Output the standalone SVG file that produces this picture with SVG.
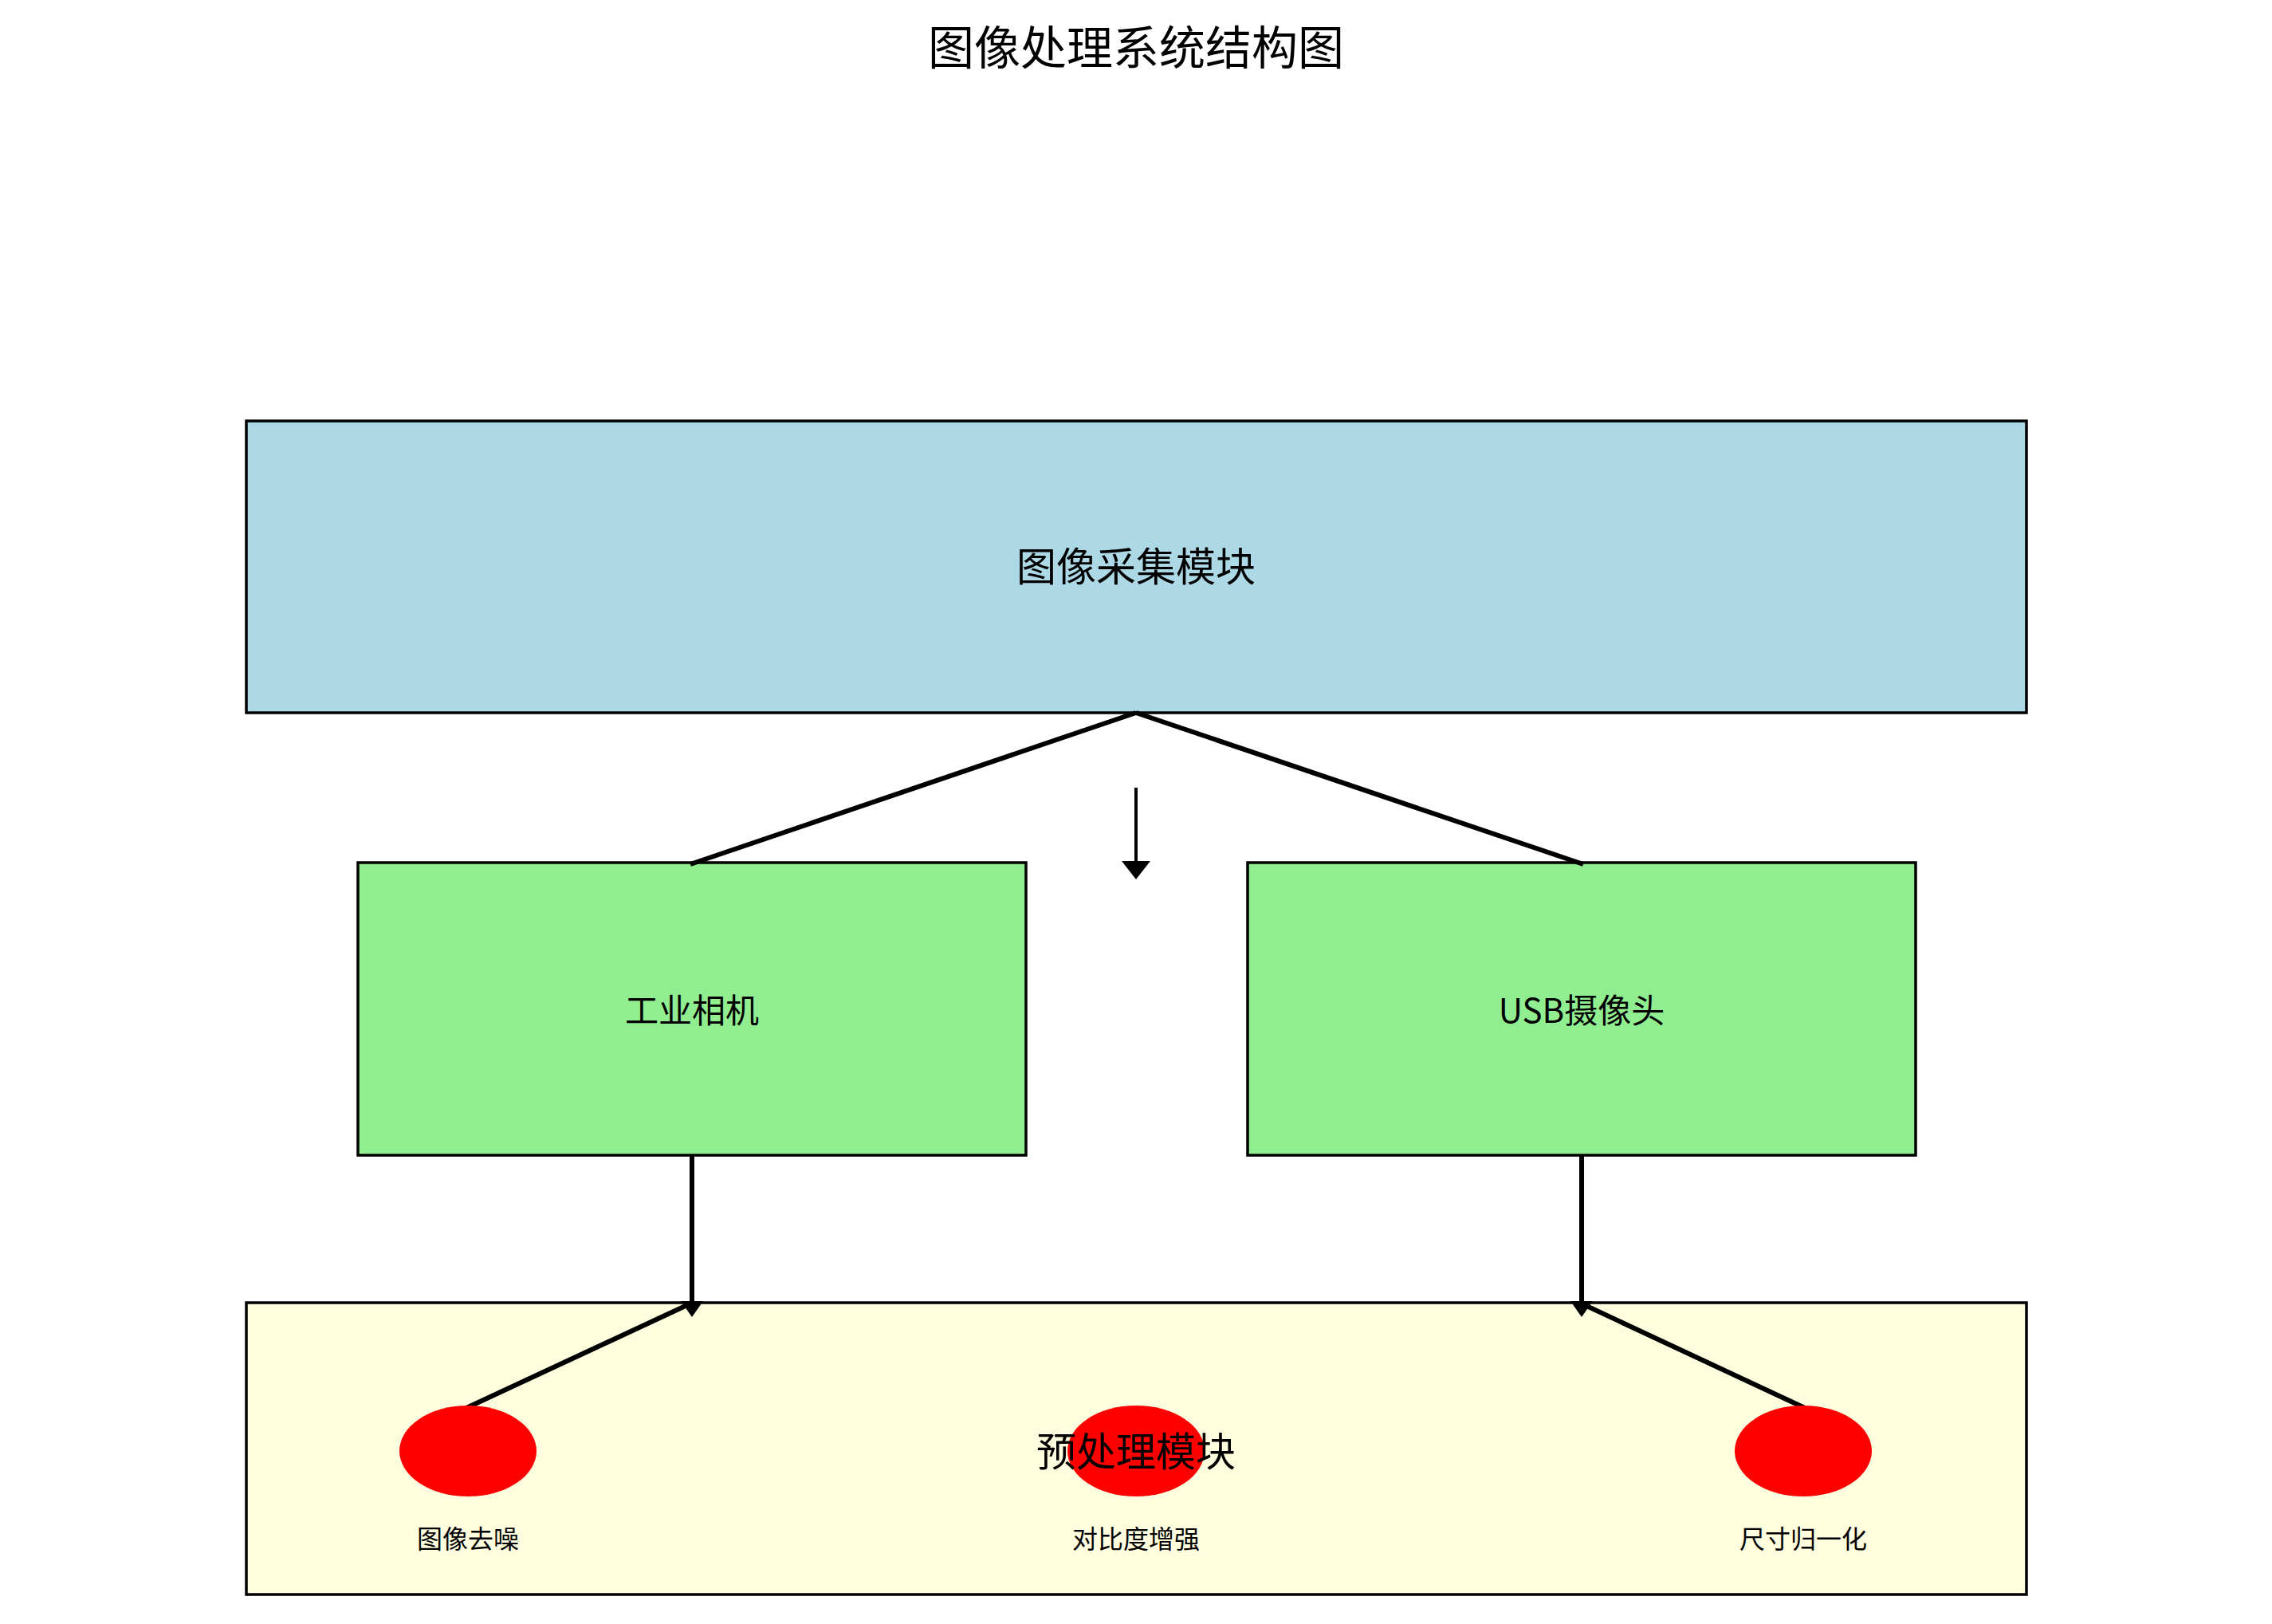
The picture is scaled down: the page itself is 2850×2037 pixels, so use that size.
<svg xmlns="http://www.w3.org/2000/svg" width="2850" height="2037" viewBox="0 0 2850 2037">
<style>
text{font-family:"Noto Sans CJK SC","Noto Sans",sans-serif;fill:#000;text-anchor:middle;dominant-baseline:central}
.box{stroke:#000;stroke-width:3.5}
.c{stroke:#000;stroke-width:6;fill:none}
</style>
<rect width="2850" height="2037" fill="#fff"/>
<text x="1425" y="56" font-size="58">图像处理系统结构图</text>
<g id="acq"><rect class="box" x="309" y="528" width="2233" height="366" fill="#add8e6"/><text x="1425" y="707" font-size="50">图像采集模块</text></g>
<g id="pre"><rect class="box" x="309" y="1634" width="2233" height="366" fill="#fffede"/></g>
<g id="cam1"><rect class="box" x="449" y="1082" width="838" height="367" fill="#90ee90"/><text x="868" y="1264" font-size="42">工业相机</text></g>
<g id="cam2"><rect class="box" x="1565" y="1082" width="838" height="367" fill="#90ee90"/><text x="1984" y="1264" font-size="42">USB摄像头</text></g>
<g id="connectors">
<path class="c" d="M1425,894 L866,1084 M1425,894 L1986,1084"/>
<line x1="1425" y1="988" x2="1425" y2="1080" stroke="#000" stroke-width="4"/>
<path d="M1407,1080 L1443,1080 L1425,1103 Z" fill="#000"/>
<line class="c" x1="868" y1="1449" x2="868" y2="1634"/>
<path d="M854,1632 L882,1632 L868,1652 Z" fill="#000"/>
<line class="c" x1="1984" y1="1449" x2="1984" y2="1634"/>
<path d="M1970,1632 L1998,1632 L1984,1652 Z" fill="#000"/>
<path class="c" d="M585,1766 L862,1637 M2264,1766 L1988,1637"/>
</g>
<g id="n1"><ellipse cx="587" cy="1820" rx="86" ry="57" fill="#f00"/><text x="587" y="1928" font-size="32">图像去噪</text></g>
<g id="n2"><ellipse cx="1425" cy="1820" rx="86" ry="57" fill="#f00"/><text x="1425" y="1928" font-size="32">对比度增强</text></g>
<g id="n3"><ellipse cx="2262" cy="1820" rx="86" ry="57" fill="#f00"/><text x="2262" y="1928" font-size="32">尺寸归一化</text></g>
<text x="1425" y="1817" font-size="50">预处理模块</text>
</svg>
